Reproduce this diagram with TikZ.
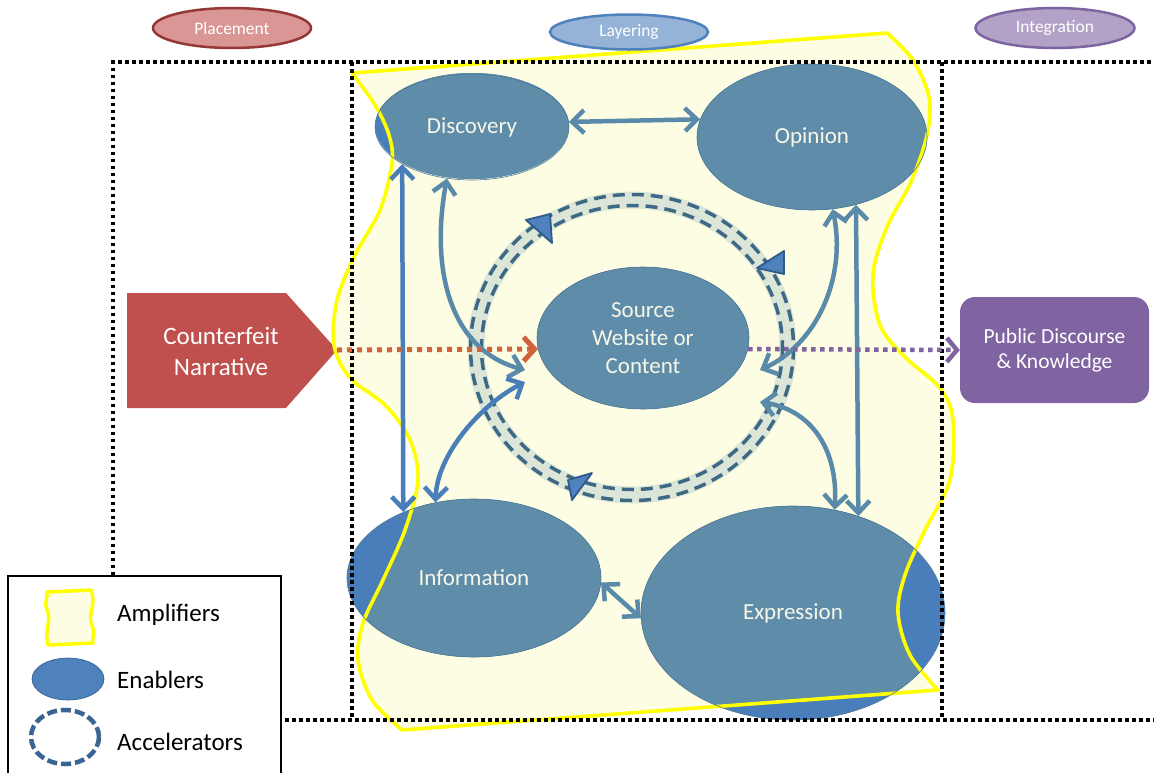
\documentclass[tikz,border=0pt]{standalone}
\usepackage{fontspec}
\setmainfont{Carlito}
\usetikzlibrary{arrows.meta,shapes.geometric}
\definecolor{ampfill}{HTML}{FDFDE3}
\definecolor{ampline}{HTML}{FFFF00}
\definecolor{enblue}{HTML}{4A7EBB}
\definecolor{enteal}{HTML}{5F8CA8}
\definecolor{enedge}{HTML}{4B7894}
\definecolor{arrteal}{HTML}{5A8AAA}
\definecolor{arrblue}{HTML}{4A7EBB}
\definecolor{bandc}{HTML}{DCE6D8}
\definecolor{dashc}{HTML}{3E6984}
\definecolor{trifill}{HTML}{4F81BD}
\definecolor{triedge}{HTML}{2E5A8C}
\definecolor{cfred}{HTML}{C0504D}
\definecolor{reddot}{HTML}{D0623C}
\definecolor{pubpurple}{HTML}{8064A2}
\definecolor{plfill}{HTML}{D99694}
\definecolor{pledge}{HTML}{953735}
\definecolor{layfill}{HTML}{95B3D7}
\definecolor{layedge}{HTML}{4F81BD}
\definecolor{intfill}{HTML}{B3A2C7}
\definecolor{intedge}{HTML}{7F64A2}
\definecolor{txtcream}{HTML}{F7F7EA}
\definecolor{legdash}{HTML}{3A6593}
\def\amppath{(352,73) -- (887,33) -- plot[smooth,tension=0.55] coordinates {(887,33) (913,60) (929,97) (927,135) (911,182) (887,227) (873,275) (880,325) (905,357) (940,388) (953,420) (950,480) (925,530) (905,575) (898,613) (910,655) (938,690)} -- (402,730) -- plot[smooth,tension=0.55] coordinates {(402,730) (372,700) (358,660) (363,623) (383,580) (405,530) (418,480) (410,440) (385,405) (350,378) (334,345) (337,300) (355,255) (380,210) (392,163) (389,135) (375,105) (352,73)} -- cycle}
\tikzset{
  enab/.style={ellipse, draw=enedge, line width=0.6pt, inner sep=0pt, text=txtcream, font=\fontsize{23}{28}\selectfont, align=center},
  toplab/.style={ellipse, line width=2.5pt, inner sep=0pt, text=white, font=\fontsize{17.5}{20}\selectfont},
  link/.style={line width=4.5pt, arrteal, {Straight Barb[length=12pt,width=23pt]}-{Straight Barb[length=12pt,width=23pt]}},
  linkb/.style={link, arrblue},
  dotline/.style={line width=3.5pt, black, dash pattern=on 3.5pt off 3.5pt},
  legtext/.style={anchor=west, font=\fontsize{25}{28}\selectfont, text=black, inner sep=0pt},
  accdash/.style={line width=3.5pt, dashc, dash pattern=on 12pt off 7pt},
  acctri/.style={fill=trifill, draw=triedge, line width=1.8pt, line join=round},
}
\begin{document}
\begin{tikzpicture}[x=1pt,y=-1pt]
\useasboundingbox (0,0) rectangle (1154,772);
\fill[white] (0,0) rectangle (1154,772);
% amplifier region fill
\fill[ampfill] \amppath;
% enabler ellipse fills
\foreach \cx/\cy/\rx/\ry in {472/126/97/53, 812/137/115/73, 643/338/106/71, 474/578/127/79, 793/613/152/107}
  {\fill[enblue] (\cx,\cy) ellipse [x radius=\rx, y radius=\ry];}
\begin{scope}
\clip \amppath;
\foreach \cx/\cy/\rx/\ry in {472/126/97/53, 812/137/115/73, 643/338/106/71, 474/578/127/79, 793/613/152/107}
  {\fill[enteal] (\cx,\cy) ellipse [x radius=\rx, y radius=\ry];}
\end{scope}
% counterfeit narrative shape
\fill[cfred] (127,293) -- (286,293) -- (337,350) -- (286,408) -- (127,408) -- cycle;
\coordinate (cftip) at (337,350);
\node[text=white, font=\fontsize{25}{31}\selectfont, align=center] (cf) at (221,351) {Counterfeit\\Narrative};
% amplifier border
\draw[ampline, line width=3.6pt, line join=round] \amppath;
% enabler nodes
\node[enab, minimum width=194pt, minimum height=106pt] (disc) at (472,127) {Discovery};
\node[enab, minimum width=230pt, minimum height=146pt] (op) at (812,137) {Opinion};
\node[enab, minimum width=212pt, minimum height=142pt] (src) at (643,338) {Source\\Website or\\Content};
\node[enab, minimum width=254pt, minimum height=158pt] (info) at (474,578) {Information};
\node[enab, minimum width=304pt, minimum height=214pt] (expr) at (793,613) {Expression};
% dotted frame
\draw[dotline] (113,575) -- (113,62) -- (1154,62);
\draw[dotline] (352,62) -- (352,720);
\draw[dotline] (942,62) -- (942,720);
\draw[dotline] (285,720) -- (1154,720);
% accelerator ring
\draw[line width=17pt, bandc] (632,347.5) ellipse [x radius=156, y radius=147.5];
\draw[accdash] (632,347.5) ellipse [x radius=161.5, y radius=153];
\draw[accdash] (632,347.5) ellipse [x radius=150.5, y radius=142];
\filldraw[acctri] (526,220) -- (550,214) -- (552,243) -- cycle;
\filldraw[acctri] (784,251) -- (757,268) -- (784,274) -- cycle;
\filldraw[acctri] (592,473) -- (568,480) -- (572,500) -- cycle;
% free arrow ends near the source node
\coordinate (s1) at (525,370);
\coordinate (s2) at (525,382);
\coordinate (s3) at (760,370);
\coordinate (s4) at (760,402);
% connectors
\draw[link] (disc.3.6) -- (op.171.3);
\draw[linkb] (disc.208.2) -- (info.137.3);
\draw[link] (op.303.8) -- (expr.56.6);
\draw[link] (disc.244) .. controls (430,270) and (450,350) .. (s1);
\draw[linkb] (info.117.4) .. controls (437,455) and (480,405) .. (s2);
\draw[link] (op.286.3) .. controls (847,280) and (815,345) .. (s3);
\draw[link] (s4) .. controls (812,410) and (838,450) .. (expr.68.8);
\draw[link] (info.358) -- (expr.182);
% public discourse box
\node[fill=pubpurple, rounded corners=15pt, minimum width=189pt, minimum height=106pt, inner sep=0pt, text=white, font=\fontsize{21.5}{25}\selectfont, align=center] (pub) at (1054.5,350) {Public Discourse\\\& Knowledge};
% dotted flow arrows
\draw[line width=5pt, reddot, dash pattern=on 5pt off 5pt, -{Straight Barb[length=11pt,width=24pt]}] (cftip) -- (src.186);
\draw[line width=4.5pt, pubpurple, dash pattern=on 4.5pt off 4.5pt, -{Straight Barb[length=10pt,width=24pt]}] (src.354) -- (pub.west);
% stage labels
\node[toplab, fill=plfill, draw=pledge, minimum width=158pt, minimum height=40pt] (plc) at (232,28) {Placement};
\node[toplab, fill=layfill, draw=layedge, minimum width=158pt, minimum height=35pt] (lay) at (629,32) {Layering};
\node[toplab, fill=intfill, draw=intedge, minimum width=159pt, minimum height=40pt] (intg) at (1055,28) {Integration};
% legend
\fill[white] (8,576) rectangle (281,780);
\draw[line width=2pt] (8,576) rectangle (281,780);
\filldraw[fill=ampfill, draw=ampline, line width=3.5pt, line join=round] (47,592) -- (91,590) .. controls (97,605) and (87,615) .. (92,625) .. controls (96,635) and (91,640) .. (93,643) -- (48,645) .. controls (44,630) and (52,620) .. (47,610) .. controls (44,602) and (48,597) .. (47,592) -- cycle;
\filldraw[fill=trifill, draw=triedge, line width=0.6pt] (68,679) ellipse [x radius=36, y radius=21];
\draw[line width=4.5pt, legdash, dash pattern=on 10pt off 4pt] (65,737) ellipse [x radius=34, y radius=27];
\node[legtext] (lamp) at (117,615) {Amplifiers};
\node[legtext] (lena) at (117,680) {Enablers};
\node[legtext] (lacc) at (117,742) {Accelerators};
\end{tikzpicture}
\end{document}
